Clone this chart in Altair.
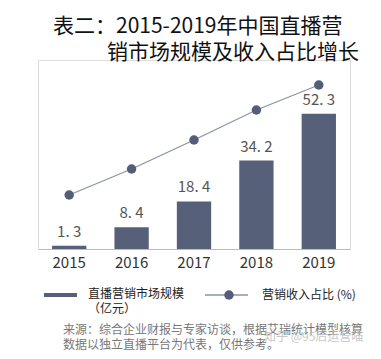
import altair as alt
import pandas as pd

years = ["2015", "2016", "2017", "2018", "2019"]
market_size = [1.3, 8.4, 18.4, 34.2, 52.3]          # 直播营销市场规模（亿元）
revenue_share = [5.4, 8.0, 10.9, 13.9, 16.4]        # 营销收入占比（%）, estimated (no labels)

title_lines = ["表二：2015-2019年中国直播营", "销市场规模及收入占比增长"]
legend_bar = ["直播营销市场规模", "（亿元）"]
legend_line = "营销收入占比 (%)"
source_lines = ["来源：综合企业财报与专家访谈，根据艾瑞统计模型核算", "数据以独立直播平台为代表，仅供参考。"]
watermark = "知乎 @95后运营喵"

FONT = "Noto Sans CJK SC"
BAR = "#566078"
LINE = "#8c93a6"
DOT = "#555e78"

df = pd.DataFrame({
    "year": years,
    "size": market_size,
    "share": revenue_share,
    "label": [f"{v:.1f}".replace(".", ". ") for v in market_size],
})
one = pd.DataFrame({"a": [0]})

xenc = alt.X("year:N", sort=years, title=None,
             scale=alt.Scale(paddingInner=0.45),
             axis=alt.Axis(labelAngle=0, labelFontSize=15, labelColor="#333333",
                           labelFont=FONT, ticks=False, domainColor="#bbbbbb",
                           labelPadding=6, grid=False))

ysize = alt.Y("size:Q", scale=alt.Scale(domain=[0, 73.06]), axis=None)
yshare = alt.Y("share:Q", scale=alt.Scale(domain=[0, 18.9]), axis=None)

base = alt.Chart(df)
bars = base.mark_bar(color=BAR).encode(x=xenc, y=ysize)
labels = base.mark_text(baseline="bottom", dy=-6, fontSize=15, font=FONT, color="#555555").encode(
    x=xenc, y=ysize, text="label:N")
bar_layer = alt.layer(bars, labels)

line = base.mark_line(color=LINE, strokeWidth=1.3).encode(x=xenc, y=yshare)
pts = base.mark_point(filled=True, color=DOT, size=90, opacity=1).encode(x=xenc, y=yshare)
line_layer = alt.layer(line, pts)


def txt(s, x, y, size=12, color="#222222", align="left", opacity=1.0):
    return alt.Chart(one).mark_text(
        text=s, align=align, baseline="middle", fontSize=size, font=FONT,
        color=color, opacity=opacity
    ).encode(x=alt.value(x), y=alt.value(y))


title1 = txt(title_lines[0], 15, -33, size=21, color="#111111")
title2 = txt(title_lines[1], 69, -7, size=21, color="#111111")

leg_rect = alt.Chart(one).mark_rect(color=BAR).encode(
    x=alt.value(6), x2=alt.value(39), y=alt.value(233), y2=alt.value(237))
leg_t1 = txt(legend_bar[0], 50, 234)
leg_t2 = txt(legend_bar[1], 50, 249)
leg_rule = alt.Chart(one).mark_rule(color=LINE, strokeWidth=1.3).encode(
    x=alt.value(167), x2=alt.value(210), y=alt.value(235))
leg_pt = alt.Chart(one).mark_point(filled=True, color=DOT, size=90, opacity=1).encode(
    x=alt.value(191), y=alt.value(235))
leg_t3 = txt(legend_line, 224, 235)

src1 = txt(source_lines[0], 25, 270, color="#777777")
src2 = txt(source_lines[1], 25, 285, color="#777777")
wm = txt(watermark, 226, 277, size=12, color="#bbbbbb", opacity=0.8)

chart = alt.layer(
    bar_layer, line_layer,
    title1, title2, leg_rect, leg_t1, leg_t2, leg_rule, leg_pt, leg_t3, src1, src2, wm,
).resolve_scale(y="independent").properties(
    width=312, height=189,
    autosize=alt.AutoSizeParams(type="none"),
    padding={"left": 30, "top": 52, "right": 20, "bottom": 102},
).configure_view(stroke=None).configure(background="white")

chart.save("out.html", embed_options={"renderer": "svg", "actions": False})
